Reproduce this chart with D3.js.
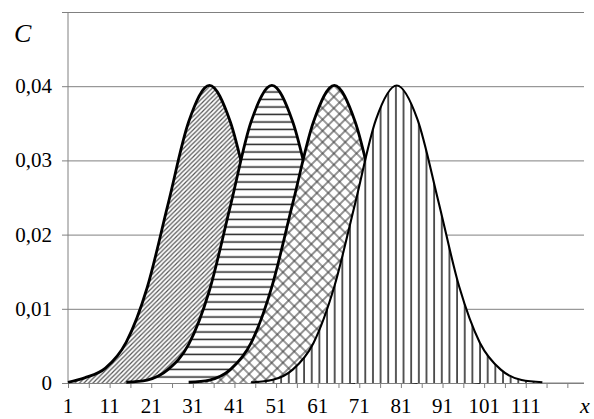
<!DOCTYPE html>
<html>
<head>
<meta charset="utf-8">
<script src="https://cdn.jsdelivr.net/npm/d3@7"></script>
<style>
  svg text { font-family: "Liberation Serif", "Times New Roman", serif !important; }
</style>
</head>
<body style="margin:0">
<div id="chart"></div>
<script>
// Four bell-shaped curves of C against x, each with its own hatch

const fontName = "Liberation Serif";

// x positions of the points of each curve
const xs1 = [1, 5, 10, 15, 20, 25, 30, 35, 40, 45, 50, 55, 60, 65, 70];
const xs2 = [15, 20, 25, 30, 35, 40, 45, 50, 55, 60, 65, 70, 75, 80, 85];
const xs3 = [30, 35, 40, 45, 50, 55, 60, 65, 70, 75, 80, 85, 90, 95, 100];
const xs4 = [45, 50, 55, 60, 65, 70, 75, 80, 85, 90, 95, 100, 105, 110, 115];

// C values
const c1 = [0.0001, 0.0007, 0.0020, 0.0055, 0.0128, 0.0240, 0.0352, 0.0401, 0.0352, 0.0242, 0.0130, 0.0054, 0.0018, 0.0004, 0.0001];
const c2 = [0.0001, 0.0004, 0.0018, 0.0052, 0.0125, 0.0238, 0.0352, 0.0401, 0.0352, 0.0242, 0.0130, 0.0054, 0.0018, 0.0004, 0.0001];
const c3 = [0.0001, 0.0004, 0.0018, 0.0054, 0.0130, 0.0242, 0.0352, 0.0401, 0.0352, 0.0242, 0.0130, 0.0054, 0.0018, 0.0004, 0.0001];
const c4 = [0.0001, 0.0004, 0.0018, 0.0054, 0.0130, 0.0242, 0.0355, 0.0401, 0.0355, 0.0245, 0.0130, 0.0054, 0.0018, 0.0004, 0.0001];

const xTickLabels = [1, 11, 21, 31, 41, 51, 61, 71, 81, 91, 101, 111];
const xMinorTicks = [1, 6, 11, 16, 21, 26, 31, 36, 41, 46, 51, 56, 61, 66, 71, 76, 81, 86, 91, 96, 101, 106, 111, 116, 121];
const yTicks = [0, 0.01, 0.02, 0.03, 0.04, 0.05];
const yTickLabels = ["0", "0,01", "0,02", "0,03", "0,04", ""];

function createVisualization() {
    const svgWidth = 594;
    const svgHeight = 419;
    const margin = { top: 12, right: 10, bottom: 36, left: 68 };
    const width = svgWidth - margin.left - margin.right;
    const height = svgHeight - margin.top - margin.bottom;

    const root = d3.select("#chart")
        .append("svg")
        .attr("width", svgWidth)
        .attr("height", svgHeight)
        .style("font-family", fontName);

    root.append("rect").attr("width", svgWidth).attr("height", svgHeight).attr("fill", "#fff");

    // hatch patterns
    const defs = root.append("defs");

    const diag = defs.append("pattern")
        .attr("id", "diag")
        .attr("patternUnits", "userSpaceOnUse")
        .attr("width", 4.5).attr("height", 4.5);
    diag.append("rect").attr("width", 4.5).attr("height", 4.5).attr("fill", "#fff");
    diag.append("path")
        .attr("d", "M-1,1 L1,-1 M0,4.5 L4.5,0 M3.5,5.5 L5.5,3.5")
        .attr("stroke", "#555").attr("stroke-width", 1.2);

    const horiz = defs.append("pattern")
        .attr("id", "horiz")
        .attr("patternUnits", "userSpaceOnUse")
        .attr("width", 10).attr("height", 7.5);
    horiz.append("rect").attr("width", 10).attr("height", 7.5).attr("fill", "#fff");
    horiz.append("line")
        .attr("x1", 0).attr("x2", 10).attr("y1", 5).attr("y2", 5)
        .attr("stroke", "#222").attr("stroke-width", 1.5);

    const cross = defs.append("pattern")
        .attr("id", "cross")
        .attr("patternUnits", "userSpaceOnUse")
        .attr("width", 8).attr("height", 8)
        .attr("patternTransform", "rotate(45)");
    cross.append("rect").attr("width", 8).attr("height", 8).attr("fill", "#fff");
    cross.append("path")
        .attr("d", "M0,0 L8,0 M0,0 L0,8 M0,8 L8,8 M8,0 L8,8")
        .attr("stroke", "#3a3a3a").attr("stroke-width", 1.1);

    const vert = defs.append("pattern")
        .attr("id", "vert")
        .attr("patternUnits", "userSpaceOnUse")
        .attr("x", 5.6)
        .attr("width", 7.65).attr("height", 10);
    vert.append("rect").attr("width", 7.65).attr("height", 10).attr("fill", "#fff");
    vert.append("line")
        .attr("x1", 1).attr("x2", 1).attr("y1", 0).attr("y2", 10)
        .attr("stroke", "#222").attr("stroke-width", 1.5);

    const svg = root.append("g")
        .attr("transform", `translate(${margin.left},${margin.top})`);

    // Create scales
    const xScale = d3.scaleLinear()
        .domain([1, 125])
        .range([0, width]);

    const yScale = d3.scaleLinear()
        .domain([0, 0.05])
        .range([height, 0]);

    // gridlines
    svg.append("g")
        .attr("class", "grid")
        .call(d3.axisLeft(yScale).tickValues(yTicks).tickSize(-width).tickFormat(""))
        .call(g => g.select(".domain").remove())
        .call(g => g.selectAll("line").attr("stroke", "#808080").attr("stroke-width", 1));

    // y axis (ticks only, labels drawn below)
    const yAxis = svg.append("g")
        .attr("class", "y-axis")
        .call(d3.axisLeft(yScale).tickValues(yTicks).tickSize(6).tickFormat(""));
    yAxis.select(".domain").attr("stroke", "#808080").attr("d", `M0,0V${height}`);
    yAxis.selectAll("line").attr("stroke", "#808080");

    svg.selectAll(".ylab")
        .data(yTicks)
        .enter().append("text")
        .attr("class", "ylab")
        .attr("x", -16)
        .attr("y", d => yScale(d))
        .attr("dy", "0.33em")
        .attr("text-anchor", "end")
        .attr("font-family", fontName)
        .style("font-family", fontName)
        .attr("font-size", 21)
        .text((d, i) => yTickLabels[i]);

    // x axis: minor ticks every 5, labels every 10
    const xAxis = svg.append("g")
        .attr("class", "x-axis")
        .attr("transform", `translate(0, ${height})`)
        .call(d3.axisBottom(xScale).tickValues(xMinorTicks).tickSize(5).tickFormat(""));
    xAxis.select(".domain").attr("stroke", "#808080").attr("d", `M0,0H${width}`);
    xAxis.selectAll("line").attr("stroke", "#808080");

    svg.selectAll(".xlab")
        .data(xTickLabels)
        .enter().append("text")
        .attr("class", "xlab")
        .attr("x", d => xScale(d))
        .attr("y", height + 30)
        .attr("text-anchor", "middle")
        .attr("font-family", fontName)
        .style("font-family", fontName)
        .attr("font-size", 21)
        .text(d => d);

    // curves
    const series = [
        { xs: xs1, cs: c1, fill: "url(#diag)", w: 2.8 },
        { xs: xs2, cs: c2, fill: "url(#horiz)", w: 2.8 },
        { xs: xs3, cs: c3, fill: "url(#cross)", w: 2.8 },
        { xs: xs4, cs: c4, fill: "url(#vert)", w: 2.1 }
    ];

    const area = d3.area()
        .x(d => xScale(d.x))
        .y0(yScale(0))
        .y1(d => yScale(d.c))
        .curve(d3.curveMonotoneX);

    const line = d3.line()
        .x(d => xScale(d.x))
        .y(d => yScale(d.c))
        .curve(d3.curveMonotoneX);

    series.forEach(s => {
        const pts = s.xs.map((x, i) => ({ x: x, c: s.cs[i] }));
        svg.append("path")
            .datum(pts)
            .attr("d", area)
            .attr("fill", s.fill);
        svg.append("path")
            .datum(pts)
            .attr("d", line)
            .attr("fill", "none")
            .attr("stroke", "#000")
            .attr("stroke-width", s.w)
            .attr("stroke-linejoin", "round");
    });

    // axis titles
    root.append("text")
        .attr("x", 14)
        .attr("y", 42)
        .attr("font-size", 26)
        .attr("font-style", "italic")
        .attr("font-family", fontName)
        .style("font-family", fontName)
        .text("C");

    root.append("text")
        .attr("x", 580)
        .attr("y", 413)
        .attr("font-size", 22)
        .attr("font-style", "italic")
        .attr("font-family", fontName)
        .style("font-family", fontName)
        .text("x");
}

createVisualization();
</script>
</body>
</html>
